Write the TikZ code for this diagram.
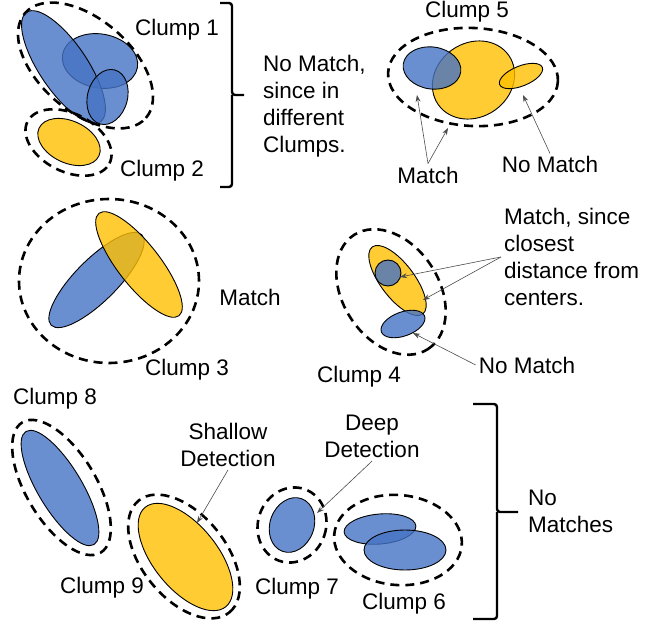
\documentclass[tikz,border=0pt]{standalone}
\usepackage{fontspec}
\setmainfont{Liberation Sans}
\usepackage{xcolor}
\usepackage{tikz}
\usetikzlibrary{arrows.meta, calc}
\definecolor{detblue}{rgb}{0.27,0.45,0.77}
\definecolor{detyellow}{rgb}{1.0,0.75,0.0}

\begin{document}
\begin{tikzpicture}[x=1pt, y=-1pt,
    bluedet/.style={draw, line width=0.9pt, fill=detblue, fill opacity=0.8},
    yellowdet/.style={draw, line width=0.9pt, fill=detyellow, fill opacity=0.8},
    clump/.style={draw, line width=2.6pt, dash pattern=on 9pt off 6pt},
    note/.style={font=\fontsize{22.5}{27}\selectfont, inner sep=3pt, align=left},
    arrow/.style={-{Stealth[length=7pt, width=5pt]}, draw=black!70, line width=0.6pt},
    brace/.style={line width=2.4pt, rounded corners=3pt}
]
\useasboundingbox (0,0) rectangle (667,623);

% Clump 1 and 2
\draw[bluedet] (100,61) ellipse [x radius=38pt, y radius=27pt, rotate=-10];
\draw[bluedet] (63.5,67) ellipse [x radius=66pt, y radius=24pt, rotate=-56];
\draw[bluedet] (107.5,97) ellipse [x radius=20pt, y radius=28pt, rotate=-15];
\draw[clump] (85.5,65.5) ellipse [x radius=80pt, y radius=46pt, rotate=-41];
\draw[yellowdet] (69,142) ellipse [x radius=33pt, y radius=21pt, rotate=-25];
\draw[clump] (68.5,142.5) ellipse [x radius=46pt, y radius=29pt, rotate=-27];

\node[note, anchor=base] (c1) at (177,36) {Clump 1};
\node[note, anchor=base] (c2) at (162,177) {Clump 2};

\draw[brace] (220,3) -| (232,95) -- (244,95);
\draw[brace] (232,95) |- (220,187);
\node[note, anchor=north west] (nm12) at (260,52) {No Match,\\since in\\different\\Clumps.};

% Clump 5
\draw[yellowdet] (473.5,80) ellipse [x radius=43pt, y radius=37pt, rotate=35];
\draw[bluedet] (432,68) ellipse [x radius=29pt, y radius=21pt, rotate=-8];
\draw[yellowdet] (521,76) ellipse [x radius=23pt, y radius=10pt, rotate=22];
\draw[clump] (473,77) ellipse [x radius=85pt, y radius=49pt, rotate=-3];

\node[note, anchor=base] (c5) at (467,18) {Clump 5};
\node[note, anchor=base] (m5) at (428,183) {Match};
\node[note, anchor=base] (nm5) at (550,173) {No Match};
\coordinate (m5a) at (417,95);
\coordinate (m5b) at (448,128);
\coordinate (nm5a) at (523,95);
\draw[arrow] (m5.north) -- (m5a);
\draw[arrow] (m5.north) -- (m5b);
\draw[arrow] (nm5.north) -- (nm5a);

% Clump 3
\draw[bluedet] (96.5,280) ellipse [x radius=64pt, y radius=21pt, rotate=45];
\draw[yellowdet] (139,264.5) ellipse [x radius=65pt, y radius=21pt, rotate=-52];
\draw[clump] (109,281) ellipse [x radius=90pt, y radius=82pt];

\node[note, anchor=base] (m3) at (250,305) {Match};
\node[note, anchor=base] (c3) at (187,375) {Clump 3};

% Clump 4
\draw[yellowdet] (397.5,280.5) ellipse [x radius=42pt, y radius=17pt, rotate=-53];
\draw[bluedet] (388,273) circle [radius=13pt];
\draw[bluedet] (403,324) ellipse [x radius=23pt, y radius=12pt, rotate=20];
\draw[clump] (391,292) ellipse [x radius=68pt, y radius=48pt, rotate=-57];

\node[note, anchor=north west] (m4) at (501,205) {Match, since\\closest\\distance from\\centers.};
\node[note, anchor=base] (nm4) at (527,373) {No Match};
\node[note, anchor=base] (c4) at (359,382) {Clump 4};
\coordinate (m4a) at (400,277);
\coordinate (m4b) at (423,300);
\coordinate (nm4a) at (413,333);
\draw[arrow] (m4.west) -- (m4a);
\draw[arrow] (m4.west) -- (m4b);
\draw[arrow] (nm4.west) -- (nm4a);

% Clump 8 and 9
\draw[bluedet] (60,488) ellipse [x radius=66pt, y radius=22pt, rotate=-59];
\draw[clump] (61.5,487.5) ellipse [x radius=76pt, y radius=35pt, rotate=-59];
\draw[yellowdet] (185.5,557) ellipse [x radius=64pt, y radius=32pt, rotate=-51];
\draw[clump] (184,556.5) ellipse [x radius=72pt, y radius=42pt, rotate=-51];

\node[note, anchor=base] (c8) at (55,404) {Clump 8};
\node[note, anchor=base] (c9) at (102,593) {Clump 9};
\node[note, anchor=north, align=center] (sd) at (228,420) {Shallow\\Detection};
\coordinate (sda) at (197,523);
\draw[arrow] (sd.south) -- (sda);

% Clump 7 and 6
\draw[bluedet] (292,525) ellipse [x radius=22pt, y radius=28pt, rotate=-20];
\draw[clump] (292,525) ellipse [x radius=34pt, y radius=38pt, rotate=-20];
\draw[bluedet] (380,529) ellipse [x radius=36pt, y radius=15pt, rotate=5];
\draw[bluedet] (405,550) ellipse [x radius=41pt, y radius=20pt];
\draw[clump] (398,540) ellipse [x radius=64pt, y radius=45pt, rotate=-5];

\node[note, anchor=north, align=center] (dd) at (372,412) {Deep\\Detection};
\node[note, anchor=base] (c7) at (297,594) {Clump 7};
\node[note, anchor=base] (c6) at (404,609) {Clump 6};
\coordinate (dda) at (317,513);
\draw[arrow] (dd.south) -- (dda);

\draw[brace] (473,404) -| (497,512) -- (518,512);
\draw[brace] (497,512) |- (473,619);
\node[note, anchor=north west] (nm) at (525,487) {No\\Matches};

\end{tikzpicture}
\end{document}
